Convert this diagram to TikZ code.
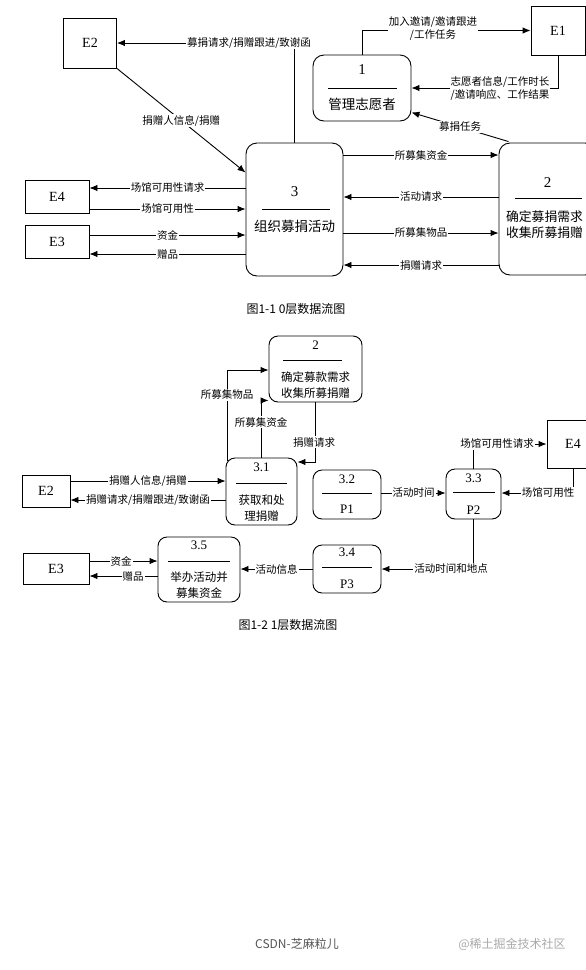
\documentclass[tikz,border=0pt]{standalone}
\usepackage{fontspec}
\setmainfont{Liberation Serif}
\newfontfamily\cjk{Noto Sans CJK SC}
\usetikzlibrary{arrows.meta,calc}
\definecolor{footA}{RGB}{85,85,85}
\definecolor{footB}{RGB}{170,170,170}
\begin{document}
\begin{tikzpicture}[x=1pt,y=-1pt,
  line width=0.9pt,
  >={Latex[length=8pt,width=6.5pt]},
  ent/.style={draw, fill=white, inner sep=0pt, font=\fontsize{14}{14}\selectfont},
  proc/.style={draw, fill=white, rounded corners=11pt, inner sep=0pt},
  procs/.style={draw, fill=white, rounded corners=9pt, inner sep=0pt},
  lab/.style={fill=white, inner sep=1pt, align=center, font=\cjk\fontsize{10.5}{13}\selectfont},
  ptext/.style={inner sep=0pt, align=center, font=\cjk\fontsize{13.5}{17}\selectfont},
  ptexts/.style={inner sep=0pt, align=center, font=\cjk\fontsize{11.5}{16}\selectfont},
  pnum/.style={inner sep=0pt, font=\fontsize{15}{15}\selectfont},
  pnums/.style={inner sep=0pt, font=\fontsize{13}{13}\selectfont},
  capt/.style={font=\cjk\fontsize{12}{14}\selectfont}
]
\useasboundingbox (0,0) rectangle (586,970);
\clip (0,0) rectangle (586,970);
\fill[white] (0,0) rectangle (586,970);

% ---------------- Level 0 ----------------
\node[ent, minimum width=53pt, minimum height=50pt] (E2) at (90,43) {E2};
\node[ent, minimum width=54pt, minimum height=49pt] (E1) at (558,30.5) {E1};
\node[ent, minimum width=64pt, minimum height=33pt] (E4) at (57,196.5) {E4};
\node[ent, minimum width=64pt, minimum height=33pt] (E3) at (57,241.5) {E3};

\node[proc, minimum width=98pt, minimum height=66pt] (P1) at (362,88) {};
\node[pnum] (P1n) at (362,70) {1};
\draw (328,88) -- (397,88);
\node[ptext] (P1t) at (362,104) {管理志愿者};

\node[proc, minimum width=97pt, minimum height=133pt] (P3) at (294.5,209.5) {};
\node[pnum] (P3n) at (294.5,192) {3};
\draw (262,209) -- (330,209);
\node[ptext] (P3t) at (294.5,226) {组织募捐活动};

\node[proc, minimum width=97pt, minimum height=132pt] (P2) at (547.5,209) {};
\node[pnum] (P2n) at (547.5,183) {2};
\draw (515,198) -- (582,198);
\node[ptext, font=\cjk\fontsize{12.8}{16.5}\selectfont] (P2t) at (544.5,224.5) {确定募捐需求\\收集所募捐赠};

\draw[->] (P3.north) |- (E2.east);
\node[lab] (l1) at (249,43) {募捐请求/捐赠跟进/致谢函};
\draw[->] (E2.south east) -- ($(P3.north west)+(0,30)$) node[lab, pos=0.5] (l2) {捐赠人信息/捐赠};
\draw[->] (P1.north) |- (E1.west);
\node[lab] (l3) at (433,29) {加入邀请/邀请跟进\\/工作任务};
\draw[->] (E1.south) |- (P1.east);
\node[lab] (l4) at (500,88) {志愿者信息/工作时长\\/邀请响应、工作结果};
\draw[->] ($(P2.north west)+(10,-1)$) -- ($(P1.south east)+(0,-9)$) node[lab, pos=0.5] (l5) {募捐任务};

\draw[->] (P3.east |- 0,155) -- (P2.west |- 0,155) node[lab, midway] (l6) {所募集资金};
\draw[->] (P2.west |- 0,197) -- (P3.east |- 0,197) node[lab, midway] (l7) {活动请求};
\draw[->] (P3.east |- 0,233) -- (P2.west |- 0,233) node[lab, midway] (l8) {所募集物品};
\draw[->] (P2.west |- 0,265) -- (P3.east |- 0,265) node[lab, midway] (l9) {捐赠请求};

\draw[->] (P3.west |- 0,188) -- (E4.east |- 0,188) node[lab, midway] (l10) {场馆可用性请求};
\draw[->] (E4.east |- 0,209) -- (P3.west |- 0,209) node[lab, midway] (l11) {场馆可用性};
\draw[->] (E3.east |- 0,235) -- (P3.west |- 0,235) node[lab, midway] (l12) {资金};
\draw[->] (P3.west |- 0,254) -- (E3.east |- 0,254) node[lab, midway] (l13) {赠品};

\node[capt] (c1) at (296,309) {图1-1 0层数据流图};

% ---------------- Level 1 ----------------
\node[procs, minimum width=93pt, minimum height=66pt] (B2) at (315.5,369) {};
\node[pnums] (B2n) at (315.5,345) {2};
\draw (283,360) -- (342,360);
\node[ptexts] (B2t) at (315.5,385) {确定募款需求\\收集所募捐赠};

\node[procs, minimum width=71pt, minimum height=67pt] (B31) at (261.5,491.5) {};
\node[pnums] (B31n) at (261.5,467) {3.1};
\draw (236,483) -- (287,483);
\node[ptexts] (B31t) at (261.5,508) {获取和处\\理捐赠};

\node[procs, minimum width=68pt, minimum height=49pt] (B32) at (347,494.5) {};
\node[pnums] (B32n) at (347,479) {3.2};
\draw (322,493) -- (372,493);
\node[pnums] (B32t) at (347,509.5) {P1};

\node[procs, minimum width=55pt, minimum height=50pt] (B33) at (473.5,494) {};
\node[pnums] (B33n) at (473.5,478) {3.3};
\draw (453,492) -- (495,492);
\node[pnums] (B33t) at (473.5,510) {P2};

\node[ent, minimum width=52pt, minimum height=48pt] (BE4) at (573,444) {E4};

\node[procs, minimum width=68pt, minimum height=48pt] (B34) at (347,569) {};
\node[pnums] (B34n) at (347,552) {3.4};
\draw (322,567) -- (372,567);
\node[pnums] (B34t) at (347,584) {P3};

\node[procs, minimum width=82pt, minimum height=65pt] (B35) at (199,569.5) {};
\node[pnums] (B35n) at (199,545) {3.5};
\draw (168,561) -- (230,561);
\node[ptexts] (B35t) at (199,585) {举办活动并\\募集资金};

\node[ent, minimum width=66pt, minimum height=31pt] (BE3) at (56,568.5) {E3};
\node[ent, minimum width=48pt, minimum height=32pt] (BE2) at (46,491) {E2};

\draw[->] (BE2.east |- 0,481) -- (B31.west |- 0,481) node[lab, midway] (m1) {捐赠人信息/捐赠};
\draw[->] (B31.west |- 0,500) -- (BE2.east |- 0,500) node[lab, midway] (m2) {捐赠请求/捐赠跟进/致谢函};

\draw[->] ($(B31.north west)+(2,3)$) |- (B2.west |- 0,370);
\node[lab] (m3) at (227,395) {所募集物品};
\draw[->] (B31.north) |- ($(B2.south west)+(0,-2)$);
\node[lab] (m4) at (261,422) {所募集资金};
\draw[->] (B2.south) |- (B31.east |- 0,462);
\node[lab] (m5) at (314,442) {捐赠请求};

\draw[->] (B32.east |- 0,493) -- (B33.west |- 0,493) node[lab, midway] (m6) {活动时间};
\draw[->] (B33.north) |- (BE4.west);
\node[lab] (m7) at (497,444) {场馆可用性请求};
\draw[->] (BE4.south) |- (B33.east |- 0,493);
\node[lab] (m8) at (548,493) {场馆可用性};
\draw[->] (B33.south) |- (B34.east);
\node[lab] (m9) at (451,569) {活动时间和地点};
\draw[->] (B34.west) -- (B35.east |- B34.west) node[lab, midway] (m10) {活动信息};
\draw[->] (BE3.east |- 0,561) -- (B35.west |- 0,561);
\node[lab] (m11) at (121,561) {资金};
\draw[->] (B35.west |- 0,576) -- (BE3.east |- 0,576);
\node[lab] (m12) at (133,576) {赠品};

\node[capt] (c2) at (288,625) {图1-2 1层数据流图};

\node[capt, text=footA] (f1) at (297,944) {CSDN-芝麻粒儿};
\node[capt, text=footB] (f2) at (512,944) {@稀土掘金技术社区};
\end{tikzpicture}
\end{document}
